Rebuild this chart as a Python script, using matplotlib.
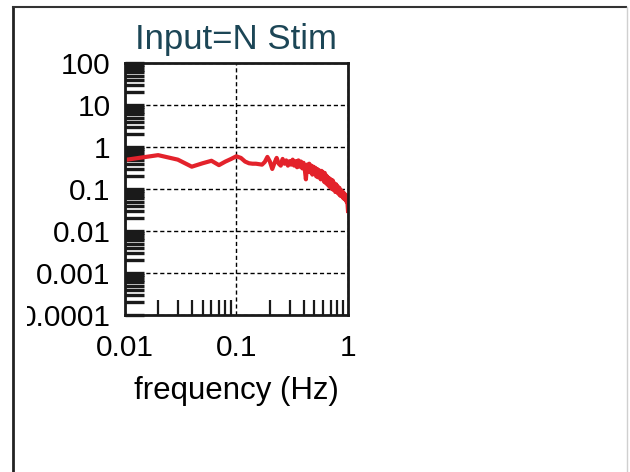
import matplotlib
matplotlib.use("Agg")
import matplotlib.pyplot as plt
from matplotlib.lines import Line2D
from matplotlib.transforms import Bbox, TransformedBbox
import numpy as np

plt.rcParams['font.family'] = ['Liberation Sans', 'DejaVu Sans']

# frequency (Hz), spectrum magnitude
freq = [round(0.01 * k, 2) for k in range(1, 101)]
mag = [
    0.49, 0.64, 0.50, 0.34, 0.41, 0.47, 0.37, 0.45, 0.52, 0.60,
    0.55, 0.45, 0.41, 0.40, 0.40, 0.39, 0.38, 0.44, 0.58, 0.45,
    0.30, 0.42, 0.55, 0.40, 0.36, 0.52, 0.40, 0.48, 0.36, 0.46,
    0.38, 0.50, 0.36, 0.46, 0.33, 0.48, 0.34, 0.45, 0.31, 0.42,
    0.30, 0.17, 0.38, 0.26, 0.40, 0.25, 0.36, 0.22, 0.34, 0.24,
    0.32, 0.20, 0.30, 0.19, 0.28, 0.21, 0.17, 0.27, 0.18, 0.25,
    0.15, 0.24, 0.14, 0.21, 0.13, 0.19, 0.12, 0.18, 0.11, 0.17,
    0.15, 0.10, 0.16, 0.095, 0.14, 0.10, 0.085, 0.13, 0.09, 0.12,
    0.08, 0.11, 0.075, 0.105, 0.07, 0.095, 0.068, 0.09, 0.065, 0.085,
    0.06, 0.08, 0.058, 0.075, 0.055, 0.07, 0.05, 0.062, 0.045, 0.03,
]
xticks = [0.01, 0.1, 1]
xtick_labels = ["0.01", "0.1", "1"]
yticks = [0.0001, 0.001, 0.01, 0.1, 1, 10, 100]
ytick_labels = ["0.0001", "0.001", "0.01", "0.1", "1", "10", "100"]
title = "Input=N Stim"
xlabel = "frequency (Hz)"

fig = plt.figure(figsize=(6.3, 4.72), dpi=100)
ax = fig.add_axes([124.5 / 630, 157 / 472, 223.5 / 630, 252 / 472])
ax.plot(freq, mag, color='#e3222b', lw=3, solid_joinstyle='round')
ax.set_xscale('log')
ax.set_yscale('log')
ax.set_xlim(0.01, 1)
ax.set_ylim(0.0001, 100)

ax.set_xticks(xticks)
ax.set_xticklabels(xtick_labels)
ax.set_yticks(yticks)
ax.set_yticklabels(ytick_labels)
ax.xaxis.set_minor_locator(matplotlib.ticker.LogLocator(base=10, subs=np.arange(2, 10)))
ax.yaxis.set_minor_locator(matplotlib.ticker.LogLocator(base=10, subs=np.arange(2, 10), numticks=20))
ax.xaxis.set_minor_formatter(matplotlib.ticker.NullFormatter())
ax.yaxis.set_minor_formatter(matplotlib.ticker.NullFormatter())

ax.tick_params(axis='y', which='both', direction='in', length=14, width=2.4,
               color='#1a1a1a', labelsize=21.5, pad=10, right=False)
ax.tick_params(axis='x', which='minor', direction='in', length=11, width=1.6, color='#1a1a1a', top=False)
ax.tick_params(axis='x', which='major', direction='in', length=0, labelsize=21.5, pad=14, top=False)

ax.grid(True, which='major', color='black', linestyle=(0, (3, 2)), linewidth=1)
for s in ax.spines.values():
    s.set_linewidth(2)
    s.set_color('#1a1a1a')

ax.set_title(title, fontsize=25, color='#1c4656', pad=10)
ax.set_xlabel(xlabel, fontsize=22.5, labelpad=10)

clip = TransformedBbox(Bbox.from_extents(27 / 630, 0, 1, 1), fig.transFigure)
for lab in ax.get_yticklabels():
    lab.set_clip_box(clip)
    lab.set_clip_on(True)

# outer frame
fig.add_artist(Line2D([13 / 630, 13 / 630], [0, 1 - 7 / 472], transform=fig.transFigure, color='#222222', lw=2))
fig.add_artist(Line2D([13 / 630, 626 / 630], [1 - 7 / 472, 1 - 7 / 472], transform=fig.transFigure, color='#333333', lw=1.5))
fig.add_artist(Line2D([627 / 630, 627 / 630], [0, 1 - 7 / 472], transform=fig.transFigure, color='#d0d0d0', lw=1))

fig.savefig('out.png', dpi=100)
